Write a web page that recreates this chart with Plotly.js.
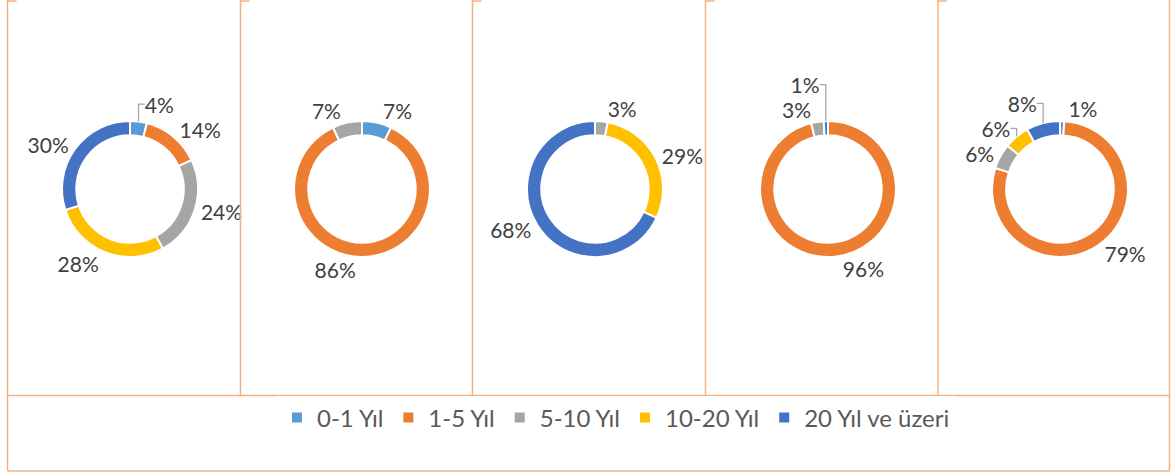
<!DOCTYPE html>
<html>
<head>
<meta charset="utf-8">
<script src="https://cdn.plot.ly/plotly-3.0.1.min.js"></script>
<style>
  html, body { margin: 0; padding: 0; background: #ffffff; }
  #chart { width: 1172px; height: 472px; }
</style>
</head>
<body>
<div id="chart"></div>
<script>
// ---- data ----
const categories = ['0-1 Yıl', '1-5 Yıl', '5-10 Yıl', '10-20 Yıl', '20 Yıl ve üzeri'];
const chart1 = [4, 14, 24, 28, 30];
const chart2 = [7, 86, 7, 0, 0];
const chart3 = [0, 0, 3, 29, 68];
const chart4 = [0, 96, 3, 0, 1];
const chart5 = [1, 79, 6, 6, 8];
const seriesColors = ['#5B9BD5', '#ED7D31', '#A5A5A5', '#FFC000', '#4472C4'];

// ---- layout constants ----
const W = 1172, H = 472;
const centersX = [130, 362, 595, 828, 1060];
const centerY = 189;
const R = 68;
const panelLines = [7.5, 240.5, 472.5, 705.5, 938, 1169.5];
const panelBottom = 395.5;
const legendBottom = 471;
const borderColor = '#F4B183';
const leaderColor = '#A6A6A6';

const allCharts = [chart1, chart2, chart3, chart4, chart5];

const traces = allCharts.map((vals, i) => ({
  type: 'pie',
  labels: categories,
  values: vals,
  text: vals.map(v => v > 0 ? v + '%' : ''),
  textinfo: 'text',
  textposition: 'outside',
  hoverinfo: 'label+percent',
  sort: false,
  direction: 'clockwise',
  rotation: 0,
  hole: 0.79,
  marker: { colors: seriesColors, line: { color: '#ffffff', width: 2 } },
  outsidetextfont: { family: 'Lato, sans-serif', size: 21, color: '#404040' },
  domain: {
    x: [(centersX[i] - R) / W, (centersX[i] + R) / W],
    y: [1 - (centerY + R) / H, 1 - (centerY - R) / H]
  },
  showlegend: i === 0
}));

const px = x => x / W;
const py = y => 1 - y / H;
const shapes = [];
panelLines.forEach((x, i) => {
  const outer = (i === 0 || i === panelLines.length - 1);
  shapes.push({ type: 'line', xref: 'paper', yref: 'paper',
    x0: px(x), x1: px(x), y0: py(0), y1: py(outer ? legendBottom : panelBottom),
    line: { color: borderColor, width: 1.5 } });
  if (i < panelLines.length - 1) {
    shapes.push({ type: 'line', xref: 'paper', yref: 'paper',
      x0: px(x), x1: px(x + 9), y0: py(1), y1: py(1),
      line: { color: borderColor, width: 1.5 } });
  }
});
shapes.push({ type: 'line', xref: 'paper', yref: 'paper',
  x0: px(panelLines[0]), x1: px(panelLines[5]), y0: py(panelBottom), y1: py(panelBottom),
  line: { color: borderColor, width: 1.5 } });
shapes.push({ type: 'line', xref: 'paper', yref: 'paper',
  x0: px(panelLines[0]), x1: px(panelLines[5]), y0: py(legendBottom), y1: py(legendBottom),
  line: { color: borderColor, width: 1.5 } });

const layout = {
  width: W, height: H,
  margin: { l: 0, r: 0, t: 0, b: 0 },
  paper_bgcolor: '#ffffff',
  font: { family: 'Lato, sans-serif', size: 21, color: '#595959' },
  showlegend: true,
  legend: {
    orientation: 'h',
    x: px(616), xanchor: 'center',
    y: py(418), yanchor: 'middle',
    font: { family: 'Lato, sans-serif', size: 24, color: '#595959' },
    traceorder: 'normal',
    itemclick: false
  },
  shapes: shapes
};

function greyLeaders() {
  document.querySelectorAll('#chart path.textline').forEach(p => {
    p.style.stroke = leaderColor;
    p.style.strokeWidth = '1.3px';
  });
}

Plotly.newPlot('chart', traces, layout, { displayModeBar: false, staticPlot: true })
  .then(gd => { greyLeaders(); gd.on('plotly_afterplot', greyLeaders); });
</script>
</body>
</html>
